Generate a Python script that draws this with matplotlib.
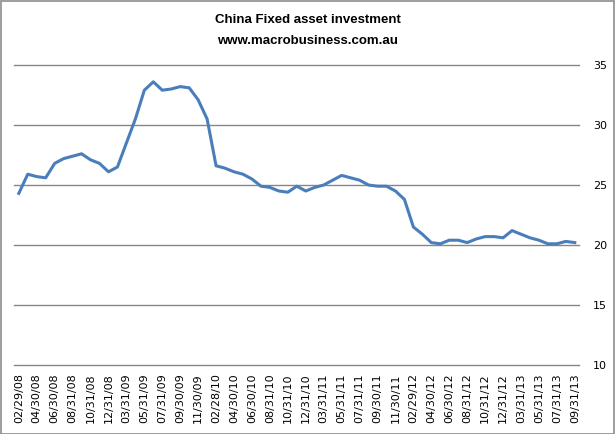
import matplotlib
matplotlib.use("Agg")
import matplotlib.pyplot as plt
from matplotlib.patches import Rectangle

# Tick labels shown every second month (Jan data merged into Feb)
tick_labels = [
    "02/29/08", "04/30/08", "06/30/08", "08/31/08", "10/31/08", "12/31/08",
    "03/31/09", "05/31/09", "07/31/09", "09/30/09", "11/30/09",
    "02/28/10", "04/30/10", "06/30/10", "08/31/10", "10/31/10", "12/31/10",
    "03/31/11", "05/31/11", "07/31/11", "09/30/11", "11/30/11",
    "02/29/12", "04/30/12", "06/30/12", "08/31/12", "10/31/12", "12/31/12",
    "03/31/13", "05/31/13", "07/31/13", "09/31/13",
]

# Fixed asset investment, YTD % yoy
fai_2008 = [24.3, 25.9, 25.7, 25.6, 26.8, 27.2, 27.4, 27.6, 27.1, 26.8, 26.1]
fai_2009 = [26.5, 28.5, 30.5, 32.9, 33.6, 32.9, 33.0, 33.2, 33.1, 32.1, 30.5]
fai_2010 = [26.6, 26.4, 26.1, 25.9, 25.5, 24.9, 24.8, 24.5, 24.4, 24.9, 24.5]
fai_2011 = [24.8, 25.0, 25.4, 25.8, 25.6, 25.4, 25.0, 24.9, 24.9, 24.5, 23.8]
fai_2012 = [21.5, 20.9, 20.2, 20.1, 20.4, 20.4, 20.2, 20.5, 20.7, 20.7, 20.6]
fai_2013 = [21.2, 20.9, 20.6, 20.4, 20.1, 20.1, 20.3, 20.2]

values = fai_2008 + fai_2009 + fai_2010 + fai_2011 + fai_2012 + fai_2013
x = list(range(len(values)))

fig = plt.figure(figsize=(6.15, 4.34), dpi=100)
ax = fig.add_axes([14.3 / 615, 69 / 434, 565 / 615, 300 / 434])

ax.plot(x, values, color="#4a7ebb", lw=2.2, solid_joinstyle="round")

ax.set_xlim(-0.5, len(values) - 0.5)
ax.set_ylim(10, 35)
ax.set_yticks([10, 15, 20, 25, 30, 35])
ax.yaxis.tick_right()
ax.grid(True, axis="y", color="#868686", lw=1.0)
for gl in ax.get_ygridlines():
    gl.set_clip_on(False)
ax.set_axisbelow(True)

ax.set_xticks(x[::2])
ax.set_xticklabels(tick_labels, rotation=90, va="top", ha="center")
ax.tick_params(axis="x", length=0, pad=6, labelsize=8)
ax.tick_params(axis="y", length=0, pad=10, labelsize=8)
for s in ax.spines.values():
    s.set_visible(False)

fig.text(0.5, 1 - 20 / 434, "China Fixed asset investment", ha="center",
         va="center", fontsize=9.5, fontweight="bold", family="Liberation Sans")
fig.text(0.5, 1 - 41 / 434, "www.macrobusiness.com.au", ha="center",
         va="center", fontsize=9.5, fontweight="bold", family="Liberation Sans")

# outer chart border
fig.patches.append(Rectangle((0.001, 0.001), 0.997, 0.996, transform=fig.transFigure,
                             fill=False, edgecolor="#8c8c8c", lw=1.2))

fig.savefig("out.png", dpi=100)
